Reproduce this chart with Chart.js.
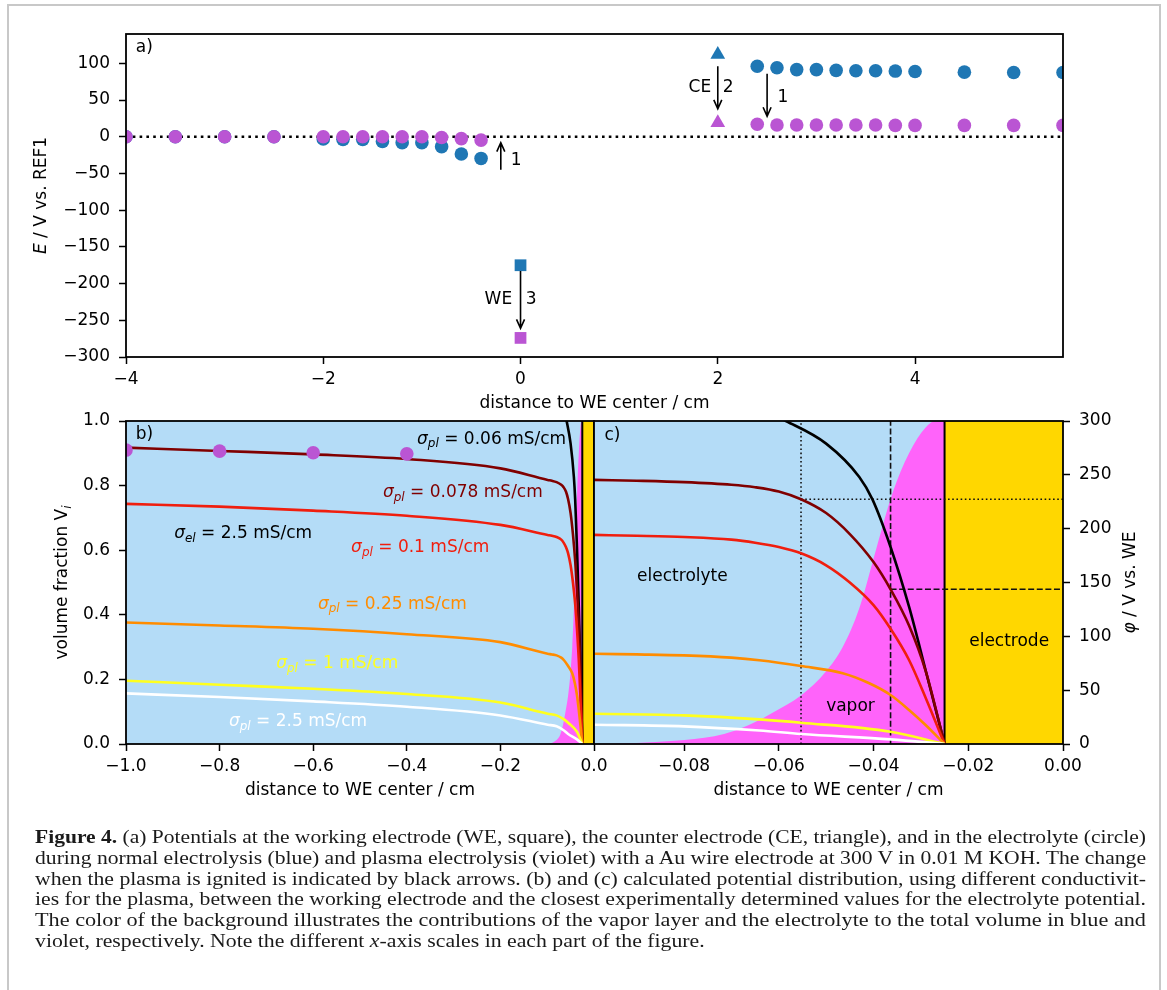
<!DOCTYPE html>
<html>
<head>
<meta charset="utf-8">
<script src="https://cdn.jsdelivr.net/npm/chart.js@4.4.0/dist/chart.umd.min.js"></script>
<style>
  body { margin: 0; background: #fff; width: 1167px; height: 990px; overflow: hidden; position: relative; }
  #frame { position: absolute; left: 7px; top: 4px; width: 1150px; height: 1010px; border: 2px solid #c8c8c8; }
  canvas { position: absolute; left: 0; }
  #cap { position: absolute; left: 35px; top: 827px; width: 1111px; font-family: "Liberation Serif", serif; font-size: 19.5px; line-height: 20.8px; color: #1a1a1a; }
  #cap div { white-space: nowrap; height: 20.8px; }
  #cap span { display: inline-block; transform-origin: 0 0; }
</style>
</head>
<body>
<div id="frame"></div>
<canvas id="ca" width="1167" height="420" style="top:0"></canvas>
<canvas id="cb" width="1167" height="420" style="top:400px"></canvas>
<canvas id="cc" width="1167" height="420" style="top:400px"></canvas>
<div id="cap">
  <div><span><b>Figure 4.</b> (a) Potentials at the working electrode (WE, square), the counter electrode (CE, triangle), and in the electrolyte (circle)</span></div>
  <div><span>during normal electrolysis (blue) and plasma electrolysis (violet) with a Au wire electrode at 300 V in 0.01 M KOH. The change</span></div>
  <div><span>when the plasma is ignited is indicated by black arrows. (b) and (c) calculated potential distribution, using different conductivit-</span></div>
  <div><span>ies for the plasma, between the working electrode and the closest experimentally determined values for the electrolyte potential.</span></div>
  <div><span>The color of the background illustrates the contributions of the vapor layer and the electrolyte to the total volume in blue and</span></div>
  <div><span>violet, respectively. Note the different <i>x</i>-axis scales in each part of the figure.</span></div>
</div>
<script>
// ---- panel a: measured potentials vs. REF1 ----
const aXRange = [-4, 5.5];
const aXTicks = [-4, -2, 0, 2, 4];
const aYTicks = [-300, -250, -200, -150, -100, -50, 0, 50, 100];
const probeDist = [-4, -3.5, -3, -2.5, -2, -1.8, -1.6, -1.4, -1.2, -1.0, -0.8, -0.6, -0.4,
                   2.4, 2.6, 2.8, 3.0, 3.2, 3.4, 3.6, 3.8, 4.0, 4.5, 5.0, 5.5];
const probeNormal = [0, 0, 0, 0, -3, -3.5, -3.5, -6.5, -8, -8, -13.5, -23.5, -29.5,
                     96, 94, 91.5, 91.5, 90.5, 90, 90, 89.5, 89, 88, 87.5, 87.5];
const probePlasma = [0, 0, 0, 0, 0, 0, 0, 0, 0, 0, -1, -2.5, -4.5,
                     17, 16, 16, 16, 16, 16, 16, 15.5, 15.5, 15.5, 15.5, 15.5];
const weDist = [0], weNormal = [-175], wePlasma = [-274];
const ceDist = [2], ceNormal = [112], cePlasma = [19];
// arrows: x, start, end
const arrowX = [-0.2, 0, 2, 2.5];
const arrowFrom = [-45, -183, 96, 86];
const arrowTo = [-8, -261, 38, 28];

// ---- panels b and c: calculated potential phi / V vs. WE ----
const bXTicks = [-1.0, -0.8, -0.6, -0.4, -0.2, 0.0];
const bYTicks = [0, 0.2, 0.4, 0.6, 0.8, 1.0];
const cXTicks = [-0.08, -0.06, -0.04, -0.02, 0];
const cYTicks = [0, 50, 100, 150, 200, 250, 300];

const x006 = [-0.066, -0.0585, -0.05, -0.043, -0.0402, -0.0364, -0.0325, -0.029, -0.025];
const phi006 = [315, 300, 279, 248, 227, 183, 127.5, 68.5, 0];
const xMid = [-1.0, -0.8, -0.6, -0.4, -0.2, -0.099, -0.09, -0.08, -0.07, -0.065, -0.06, -0.0553, -0.05, -0.045, -0.04, -0.0364, -0.0325, -0.029, -0.025];
const phi0078 = [275.3, 272.2, 269, 264.7, 256, 245.3, 244.5, 243.2, 240.8, 238.5, 234.5, 227.3, 214.5, 195, 169, 143.7, 110, 68, 0];
const phi01 = [223, 220.5, 216.8, 212, 203.5, 194.2, 193.4, 192.2, 189.8, 187, 183, 177.1, 166, 150, 129, 107, 78, 43, 0];
const x025 = [-1.0, -0.8, -0.6, -0.4, -0.2, -0.099, -0.09, -0.08, -0.07, -0.0641, -0.0553, -0.0465, -0.0409, -0.0364, -0.0325, -0.029, -0.025];
const phi025 = [112.9, 110.1, 107, 102, 94.6, 83.8, 83.2, 82.3, 80.2, 77.8, 72.4, 65.7, 56.4, 45.5, 31.6, 17.6, 0];
const xLow = [-1.0, -0.8, -0.6, -0.4, -0.2, -0.099, -0.08, -0.0641, -0.0553, -0.0364, -0.025];
const phi1 = [58.8, 55, 51.3, 46.4, 38.5, 28.1, 26.6, 22.9, 19.8, 11.4, 0];
const phi25 = [47, 43.6, 39.6, 34.6, 26.5, 17.9, 16.4, 12.5, 9.3, 4.3, 0];
const measX = [-1.0, -0.8, -0.6, -0.4];
const measPhi = [273, 272, 270.5, 269.5];
// volume fraction of vapor
const vaporX = [-1.0, -0.1, -0.09, -0.082, -0.0736, -0.0695, -0.0654, -0.0613, -0.0553, -0.05, -0.0465, -0.043, -0.0395, -0.036, -0.0325, -0.029, -0.027, -0.025];
const vaporV = [0, 0, 0.003, 0.01, 0.024, 0.04, 0.065, 0.097, 0.15, 0.225, 0.3, 0.42, 0.6, 0.776, 0.9, 0.98, 1.0, 1.0];
const electrodeX = [-0.025, 0];
// vapor layer edge markers (dotted, dashed)
const edgeX = [-0.0553, -0.0364];
const edgePhi = [227.3, 143.7];

const BLUE = '#1f77b4', VIOLET = '#ba55d3';
const pts = (xs, ys) => xs.map((x, i) => ({x, y: ys[i]}));
const fmt = (v, d) => (v < -1e-9 ? '\u2212' : '') + Math.abs(v).toFixed(d);

Chart.defaults.font.family = '"DejaVu Sans"';
Chart.defaults.font.size = 17;
Chart.defaults.color = '#000';

function axis(position, min, max, ticks, dec, fit, pad) {
  return {
    type: 'linear', position, min, max,
    afterBuildTicks: s => { s.ticks = ticks.map(v => ({value: v})); },
    afterFit: fit,
    ticks: {callback: v => fmt(v, dec), autoSkip: false, maxRotation: 0, padding: pad},
    grid: {display: true, drawOnChartArea: false, drawTicks: true, tickLength: 7, tickWidth: 1.5, color: '#000'},
    border: {display: false}
  };
}

function richText(ctx, parts, x, y, color, align) {
  const F = {n: '17px "DejaVu Sans"', i: 'italic 17px "DejaVu Sans"', s: 'italic 12px "DejaVu Sans"'};
  ctx.save();
  ctx.textBaseline = 'middle';
  ctx.textAlign = 'left';
  ctx.fillStyle = color;
  let w = 0;
  for (const [t, s] of parts) { ctx.font = F[s]; w += ctx.measureText(t).width; }
  let cx = align === 'center' ? x - w / 2 : align === 'right' ? x - w : x;
  for (const [t, s] of parts) {
    ctx.font = F[s];
    ctx.fillText(t, cx, s === 's' ? y + 5 : y);
    cx += ctx.measureText(t).width;
  }
  ctx.restore();
}

function notes(cfg) {
  return {
    id: 'notes',
    afterDatasetsDraw(chart) {
      const {ctx, chartArea: a, scales} = chart;
      const xs = scales.x, ys = scales[cfg.yText];
      ctx.save();
      ctx.strokeStyle = '#000';
      ctx.lineWidth = 1.8;
      ctx.strokeRect(a.left, a.top, a.right - a.left, a.bottom - a.top);
      ctx.lineWidth = 1.6;
      (cfg.arrows || []).forEach(([x, y0, y1]) => {
        const px = xs.getPixelForValue(x), p0 = ys.getPixelForValue(y0), p1 = ys.getPixelForValue(y1);
        const dir = Math.sign(p1 - p0);
        ctx.beginPath();
        ctx.moveTo(px, p0); ctx.lineTo(px, p1);
        ctx.moveTo(px - 4, p1 - dir * 9); ctx.lineTo(px, p1); ctx.lineTo(px + 4, p1 - dir * 9);
        ctx.stroke();
      });
      ctx.restore();
      (cfg.texts || []).forEach(t => richText(ctx, t.parts, xs.getPixelForValue(t.x), ys.getPixelForValue(t.y), t.color || '#000', t.align || 'left'));
      if (cfg.xTitle) richText(ctx, cfg.xTitle, (a.left + a.right) / 2, a.bottom + 47, '#000', 'center');
      [[cfg.yTitle, cfg.yTitleX], [cfg.y2Title, cfg.y2TitleX]].forEach(([parts, tx]) => {
        if (!parts) return;
        ctx.save();
        ctx.translate(tx, (a.top + a.bottom) / 2);
        ctx.rotate(-Math.PI / 2);
        richText(ctx, parts, 0, 0, '#000', 'center');
        ctx.restore();
      });
    }
  };
}

const base = {
  responsive: false, animation: false, devicePixelRatio: 1, events: [],
  plugins: {legend: {display: false}, tooltip: {enabled: false}}
};
const marker = (data, style, r, color, order) => ({
  data, showLine: false, pointStyle: style, pointRadius: r, pointBackgroundColor: color,
  pointBorderWidth: 0, order
});
const curve = (data, color, order, axisId) => ({
  data, yAxisID: axisId, borderColor: color, borderWidth: 2.6, pointRadius: 0,
  cubicInterpolationMode: 'monotone', order
});
const area = (data, color, order) => ({
  data, yAxisID: 'yV', fill: 'origin', backgroundColor: color, borderColor: 'transparent',
  borderWidth: 0, pointRadius: 0, cubicInterpolationMode: 'monotone', order
});

// ---- chart a ----
new Chart(document.getElementById('ca'), {
  type: 'line',
  data: {datasets: [
    {data: pts(aXRange, [0, 0]), borderColor: '#000', borderWidth: 2.6, borderDash: [2.6, 4.2], pointRadius: 0, order: 10},
    marker(pts(probeDist, probeNormal), 'circle', 6.8, BLUE, 4),
    marker(pts(probeDist, probePlasma), 'circle', 6.8, VIOLET, 3),
    marker(pts(weDist, weNormal), 'rect', 8.3, BLUE, 2),
    marker(pts(weDist, wePlasma), 'rect', 8.3, VIOLET, 2),
    marker(pts(ceDist, ceNormal), 'triangle', 8.5, BLUE, 2),
    marker(pts(ceDist, cePlasma), 'triangle', 8.5, VIOLET, 2)
  ]},
  options: {...base,
    layout: {padding: {top: 34, right: 104, left: 0, bottom: 0}},
    scales: {
      x: axis('bottom', aXRange[0], aXRange[1], aXTicks, 0, s => { s.height = 63; }, 5),
      y: axis('left', -300, 140, aYTicks, 0, s => { s.width = 126; }, 9)
    }
  },
  plugins: [notes({
    yText: 'y',
    arrows: arrowX.map((x, i) => [x, arrowFrom[i], arrowTo[i]]),
    texts: [
      {x: -3.9, y: 121, parts: [['a)', 'n']]},
      {x: -0.045, y: -33, parts: [['1', 'n']], align: 'center'},
      {x: -0.085, y: -222, parts: [['WE', 'n']], align: 'right'},
      {x: 0.107, y: -222, parts: [['3', 'n']], align: 'center'},
      {x: 1.933, y: 67, parts: [['CE', 'n']], align: 'right'},
      {x: 2.106, y: 67, parts: [['2', 'n']], align: 'center'},
      {x: 2.66, y: 53.6, parts: [['1', 'n']], align: 'center'}
    ],
    xTitle: [['distance to WE center / cm', 'n']],
    yTitle: [['E', 'i'], [' / V vs. REF1', 'n']], yTitleX: 42
  })]
});

// shared background + curves for b and c
function bcDatasets(xMin) {
  return [
    area(pts([xMin, 0], [1, 1]), '#b4dcf7', 20),
    area(pts(vaporX, vaporV), '#ff63fa', 19),
    area(pts(electrodeX, [1, 1]), '#ffd700', 18),
    {data: pts([electrodeX[0], electrodeX[0]], [0, 1]), yAxisID: 'yV', borderColor: '#000', borderWidth: 2, pointRadius: 0, order: 17},
    curve(pts(x006, phi006), '#000000', 6, 'yP'),
    curve(pts(xMid, phi0078), '#800000', 5, 'yP'),
    curve(pts(xMid, phi01), '#f01e0e', 4, 'yP'),
    curve(pts(x025, phi025), '#ff8c00', 3, 'yP'),
    curve(pts(xLow, phi1), '#ffff1e', 2, 'yP'),
    curve(pts(xLow, phi25), '#ffffff', 1, 'yP')
  ];
}
const sigma = (sub, rest) => [['\u03c3', 'i'], [sub, 's'], [rest, 'n']];

// ---- chart b ----
new Chart(document.getElementById('cb'), {
  type: 'line',
  data: {datasets: [
    ...bcDatasets(-1.0),
    {...marker(pts(measX, measPhi), 'circle', 6.8, VIOLET, 0), yAxisID: 'yP'}
  ]},
  options: {...base,
    layout: {padding: {top: 21, right: 573, left: 0, bottom: 0}},
    scales: {
      x: axis('bottom', -1.0, 0, bXTicks, 1, s => { s.height = 76; }, 5),
      yV: axis('left', 0, 1, bYTicks, 1, s => { s.width = 126; }, 9),
      yP: {type: 'linear', min: 0, max: 300, display: false, position: 'right'}
    }
  },
  plugins: [notes({
    yText: 'yV',
    texts: [
      {x: -0.979, y: 0.957, parts: [['b)', 'n']]},
      {x: -0.378, y: 0.944, parts: sigma('pl', ' = 0.06 mS/cm')},
      {x: -0.451, y: 0.777, parts: sigma('pl', ' = 0.078 mS/cm'), color: '#800000'},
      {x: -0.897, y: 0.650, parts: sigma('el', ' = 2.5 mS/cm')},
      {x: -0.519, y: 0.607, parts: sigma('pl', ' = 0.1 mS/cm'), color: '#f01e0e'},
      {x: -0.590, y: 0.433, parts: sigma('pl', ' = 0.25 mS/cm'), color: '#ff8c00'},
      {x: -0.679, y: 0.248, parts: sigma('pl', ' = 1 mS/cm'), color: '#ffff1e'},
      {x: -0.780, y: 0.068, parts: sigma('pl', ' = 2.5 mS/cm'), color: '#ffffff'}
    ],
    xTitle: [['distance to WE center / cm', 'n']],
    yTitle: [['volume fraction V', 'n'], ['i', 's']], yTitleX: 63
  })]
});

// ---- chart c ----
const edgeLine = (data, dash) => ({data, yAxisID: 'yP', borderColor: '#111', borderWidth: 1.6, borderDash: dash, pointRadius: 0, order: 8});
new Chart(document.getElementById('cc'), {
  type: 'line',
  data: {datasets: [
    ...bcDatasets(-0.099),
    edgeLine(pts([edgeX[0], edgeX[0]], [0, 300]), [1.6, 2.6]),
    edgeLine(pts([edgeX[0], 0], [edgePhi[0], edgePhi[0]]), [1.6, 2.6]),
    edgeLine(pts([edgeX[1], edgeX[1]], [0, 300]), [6, 2.6]),
    edgeLine(pts([edgeX[1], 0], [edgePhi[1], edgePhi[1]]), [6, 2.6])
  ]},
  options: {...base,
    layout: {padding: {top: 21, right: 0, left: 594, bottom: 0}},
    scales: {
      x: axis('bottom', -0.099, 0, cXTicks, 2, s => { s.height = 76; }, 5),
      yV: {type: 'linear', min: 0, max: 1, display: false, position: 'left'},
      yP: axis('right', 0, 300, cYTicks, 0, s => { s.width = 104; }, 9)
    }
  },
  plugins: [notes({
    yText: 'yV',
    texts: [
      {x: -0.0968, y: 0.954, parts: [['c)', 'n']]},
      {x: -0.0899, y: 0.517, parts: [['electrolyte', 'n']]},
      {x: -0.0500, y: 0.115, parts: [['vapor', 'n']]},
      {x: -0.0198, y: 0.316, parts: [['electrode', 'n']]}
    ],
    xTitle: [['distance to WE center / cm', 'n']],
    y2Title: [['\u03c6', 'i'], [' / V vs. WE', 'n']], y2TitleX: 1131
  })]
});

// caption: condense each justified line horizontally to the column width
(function () {
  const lines = document.querySelectorAll('#cap span');
  const target = 1111;
  let sum = 0;
  lines.forEach((s, i) => {
    if (i === lines.length - 1) return;
    const k = target / s.getBoundingClientRect().width;
    sum += k;
    s.style.transform = 'scaleX(' + k + ')';
  });
  const last = lines[lines.length - 1];
  last.style.transform = 'scaleX(' + (sum / (lines.length - 1)) + ')';
})();
</script>
</body>
</html>
